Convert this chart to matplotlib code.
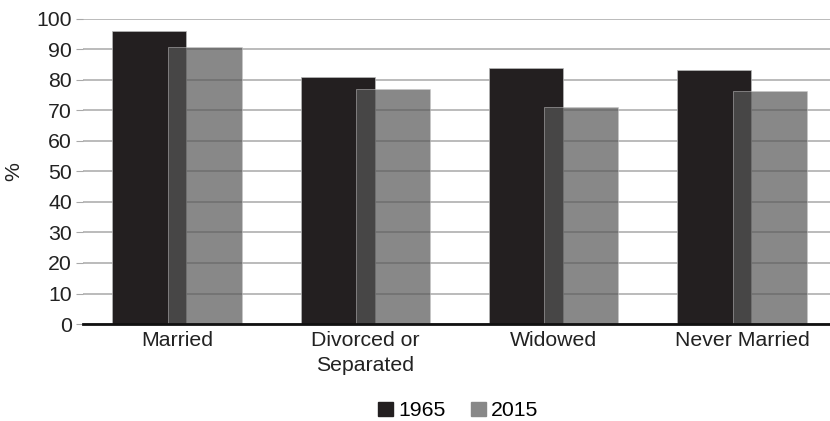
import numpy as np
import matplotlib.pyplot as plt
import matplotlib.patches as mpatches

plt.rcParams['font.family'] = ['Liberation Sans', 'DejaVu Sans']

categories = ["Married", "Divorced or\nSeparated", "Widowed", "Never Married"]
vals_1965 = [96, 81, 84, 83.2]
vals_2015 = [90.8, 77, 71, 76.5]
yticks = list(range(0, 101, 10))

dark = "#231f20"
gray = "#575757"
x = np.arange(len(categories))
width = 0.393
offset = 0.147
fs = 15.3

fig = plt.figure(figsize=(8.3, 4.21), dpi=100)
ax = fig.add_axes([0.1, 0.2304, 0.9, 0.7245])

ax.set_axisbelow(True)
ax.yaxis.grid(True, color="#a8a8a8", linewidth=1.1)
ax.bar(x - offset, vals_1965, width, color=dark, edgecolor="#b8b8b8", linewidth=0.5, zorder=2)
ax.bar(x + offset, vals_2015, width, color=gray, alpha=0.71, edgecolor="#c8c8c8", linewidth=0.5, zorder=3)

ax.set_xlim(-0.5, -0.5 + 747 / 188.3)
ax.set_ylim(0, 100)
ax.set_yticks(yticks)
ax.set_xticks(x)
ax.set_xticklabels(categories, fontsize=fs, color="#222222", linespacing=1.38)
ax.tick_params(axis="x", length=0, pad=5)
ax.tick_params(axis="y", length=5, color="#a8a8a8", labelsize=fs, labelcolor="#222222", pad=3)
for s in ["top", "right", "left"]:
    ax.spines[s].set_visible(False)
ax.spines["bottom"].set_color("#111111")
ax.spines["bottom"].set_linewidth(2)
ax.spines["bottom"].set_zorder(5)
ax.set_ylabel("%", fontsize=fs, color="#222222")
ax.yaxis.set_label_coords(-0.08, 0.5)

handles = [mpatches.Patch(color=dark, label="1965"), mpatches.Patch(color="#888888", label="2015")]
fig.legend(handles=handles, loc="center", bbox_to_anchor=(0.552, 0.024), ncol=2, frameon=False,
           fontsize=fs, handlelength=0.7, handleheight=0.7, handletextpad=0.25, columnspacing=1.2)

fig.savefig("out.png", dpi=100)
